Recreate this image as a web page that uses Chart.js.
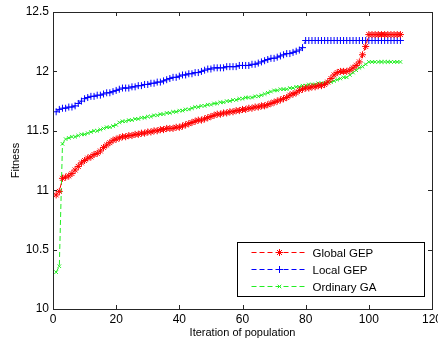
<!DOCTYPE html>
<html>
<head>
  <meta charset="UTF-8">
  <title>Fitness vs iteration</title>
  <script src="https://cdn.jsdelivr.net/npm/chart.js"></script>
  <style>
    html, body { margin: 0; padding: 0; background: #fff; }
    #wrap { width: 438px; height: 345px; }
  </style>
</head>
<body>
  <div id="wrap"><canvas id="fitChart" width="438" height="345"></canvas></div>

  <script>
    // iterations 1..110
    const iterations = Array.from({ length: 110 }, (_, i) => i + 1);
    const seriesNames = ['Global GEP', 'Local GEP', 'Ordinary GA'];
    const xTicks = [0, 20, 40, 60, 80, 100, 120];
    const yTicks = [10, 10.5, 11, 11.5, 12, 12.5];

    const globalGEP = [
      10.96, 10.99, 11.10, 11.11, 11.12, 11.14, 11.17, 11.20, 11.23, 11.25,
      11.27, 11.28, 11.30, 11.31, 11.33, 11.36, 11.38, 11.40, 11.42, 11.43,
      11.44, 11.45, 11.45, 11.46, 11.46, 11.47, 11.47, 11.48, 11.48, 11.49,
      11.49, 11.50, 11.50, 11.51, 11.51, 11.52, 11.52, 11.52, 11.53, 11.53,
      11.54, 11.55, 11.56, 11.57, 11.58, 11.59, 11.59, 11.60, 11.61, 11.62,
      11.63, 11.64, 11.64, 11.65, 11.65, 11.66, 11.66, 11.67, 11.67, 11.68,
      11.68, 11.69, 11.69, 11.70, 11.70, 11.71, 11.71, 11.72, 11.73, 11.74,
      11.75, 11.76, 11.77, 11.78, 11.80, 11.81, 11.82, 11.84, 11.85, 11.86,
      11.86, 11.87, 11.87, 11.88, 11.88, 11.89, 11.91, 11.94, 11.97, 11.99,
      12.00, 12.00, 12.00, 12.01, 12.03, 12.05, 12.08, 12.14, 12.21, 12.31,
      12.31, 12.31, 12.31, 12.31, 12.31, 12.31, 12.31, 12.31, 12.31, 12.31
    ];
    const localGEP = [
      11.66, 11.68, 11.69, 11.69, 11.70, 11.70, 11.71, 11.73, 11.75, 11.77,
      11.78, 11.79, 11.79, 11.80, 11.80, 11.81, 11.82, 11.82, 11.83, 11.84,
      11.85, 11.86, 11.86, 11.86, 11.87, 11.87, 11.88, 11.88, 11.89, 11.89,
      11.90, 11.90, 11.91, 11.91, 11.92, 11.93, 11.94, 11.95, 11.95, 11.96,
      11.97, 11.97, 11.98, 11.98, 11.99, 11.99, 12.00, 12.01, 12.02, 12.02,
      12.03, 12.03, 12.03, 12.03, 12.04, 12.04, 12.04, 12.04, 12.05, 12.05,
      12.05, 12.05, 12.06, 12.06, 12.07, 12.08, 12.09, 12.10, 12.11, 12.11,
      12.12, 12.13, 12.14, 12.15, 12.15, 12.16, 12.17, 12.18, 12.20, 12.26,
      12.26, 12.26, 12.26, 12.26, 12.26, 12.26, 12.26, 12.26, 12.26, 12.26,
      12.26, 12.26, 12.26, 12.26, 12.26, 12.26, 12.26, 12.26, 12.26, 12.26,
      12.26, 12.26, 12.26, 12.26, 12.26, 12.26, 12.26, 12.26, 12.26, 12.26
    ];
    const ordinaryGA = [
      10.31, 10.36, 11.39, 11.43, 11.44, 11.45, 11.45, 11.46, 11.47, 11.47,
      11.48, 11.49, 11.50, 11.50, 11.51, 11.52, 11.53, 11.53, 11.54, 11.55,
      11.57, 11.58, 11.58, 11.59, 11.59, 11.60, 11.60, 11.61, 11.61, 11.62,
      11.62, 11.63, 11.63, 11.64, 11.64, 11.65, 11.65, 11.66, 11.66, 11.67,
      11.67, 11.68, 11.68, 11.69, 11.70, 11.70, 11.71, 11.71, 11.72, 11.72,
      11.73, 11.73, 11.74, 11.74, 11.75, 11.75, 11.76, 11.76, 11.77, 11.77,
      11.78, 11.78, 11.78, 11.79, 11.79, 11.80, 11.81, 11.82, 11.83, 11.84,
      11.84, 11.85, 11.85, 11.85, 11.86, 11.86, 11.87, 11.87, 11.88, 11.88,
      11.89, 11.89, 11.89, 11.90, 11.90, 11.90, 11.91, 11.91, 11.92, 11.93,
      11.94, 11.95, 11.95, 11.97, 11.99, 12.01, 12.03, 12.04, 12.06, 12.08,
      12.08, 12.08, 12.08, 12.08, 12.08, 12.08, 12.08, 12.08, 12.08, 12.08
    ];

    const FONT = 'Liberation Sans, Arial, sans-serif';
    const AXIS = '#262626';
    const COLORS = ['#ff0000', '#0000ff', '#22ee22'];
    const STYLES = ['star', 'cross', 'crossRot'];
    const RADII = [3.5, 3.5, 2.5];

    function series(i, data) {
      return {
        label: seriesNames[i],
        data: data,
        borderColor: COLORS[i],
        backgroundColor: COLORS[i],
        borderWidth: 1,
        borderDash: [5, 3],
        pointStyle: STYLES[i],
        pointRadius: RADII[i],
        pointBorderWidth: 1,
        pointBorderColor: COLORS[i],
        pointHoverRadius: RADII[i],
        tension: 0,
        fill: false
      };
    }

    // matlab-ish box with inward ticks + legend drawn in the axes
    const matlabAxes = {
      id: 'matlabAxes',
      afterDraw(chart) {
        const ctx = chart.ctx;
        const a = chart.chartArea;
        const xs = chart.scales.x, ys = chart.scales.y;
        ctx.save();
        ctx.strokeStyle = AXIS;
        ctx.lineWidth = 1;
        ctx.setLineDash([]);
        ctx.strokeRect(Math.round(a.left) + 0.5, Math.round(a.top) + 0.5,
          Math.round(a.right - a.left), Math.round(a.bottom - a.top));
        ctx.beginPath();
        xTicks.forEach(v => {
          const px = Math.round(xs.getPixelForValue(v)) + 0.5;
          ctx.moveTo(px, a.bottom); ctx.lineTo(px, a.bottom - 4);
          ctx.moveTo(px, a.top); ctx.lineTo(px, a.top + 4);
        });
        yTicks.forEach(v => {
          const py = Math.round(ys.getPixelForValue(v)) + 0.5;
          ctx.moveTo(a.left, py); ctx.lineTo(a.left + 4, py);
          ctx.moveTo(a.right, py); ctx.lineTo(a.right - 4, py);
        });
        ctx.stroke();

        // legend
        const w = 187, h = 54;
        const lx = Math.round(a.right - 8 - w) + 0.5, ly = Math.round(a.bottom - 13 - h) + 0.5;
        ctx.fillStyle = '#fff';
        ctx.fillRect(lx, ly, w, h);
        ctx.strokeStyle = '#000';
        ctx.strokeRect(lx, ly, w, h);
        ctx.font = '11.5px ' + FONT;
        ctx.textBaseline = 'middle';
        seriesNames.forEach((name, i) => {
          const cy = ly + 10 + i * 17;
          ctx.strokeStyle = COLORS[i];
          ctx.lineWidth = 1;
          ctx.setLineDash([5, 3]);
          ctx.beginPath();
          ctx.moveTo(lx + 14, cy); ctx.lineTo(lx + 70, cy);
          ctx.stroke();
          ctx.setLineDash([]);
          ctx.strokeStyle = COLORS[i];
          ctx.fillStyle = COLORS[i];
          Chart.helpers.drawPoint(ctx, {
            pointStyle: STYLES[i], radius: RADII[i], borderWidth: 1, rotation: 0
          }, lx + 42, cy);
          ctx.fillStyle = '#000';
          ctx.fillText(name, lx + 75, cy + 1);
        });
        ctx.restore();
      }
    };

    const ctx = document.getElementById('fitChart').getContext('2d');
    new Chart(ctx, {
      type: 'line',
      data: {
        labels: iterations,
        datasets: [
          series(0, globalGEP),
          series(1, localGEP),
          series(2, ordinaryGA)
        ]
      },
      options: {
        responsive: false,
        animation: false,
        layout: { padding: { top: 12, right: 6, left: 0, bottom: 0 } },
        plugins: { legend: { display: false }, tooltip: { enabled: false } },
        scales: {
          x: {
            type: 'linear', min: 0, max: 120,
            afterBuildTicks: s => { s.ticks = xTicks.map(v => ({ value: v })); },
            afterFit: s => { s.height = 36; s.paddingLeft = 0; s.paddingRight = 0; },
            grid: { display: false, drawTicks: false },
            border: { display: false },
            ticks: { color: '#000', font: { family: FONT, size: 12 }, padding: 3, maxRotation: 0,
                     callback: v => String(v) },
            title: { display: true, text: 'Iteration of population', color: '#000',
                     font: { family: FONT, size: 11 }, padding: { top: 0, bottom: 5 } }
          },
          y: {
            min: 10, max: 12.5,
            afterBuildTicks: s => { s.ticks = yTicks.map(v => ({ value: v })); },
            afterFit: s => { s.width = 53; s.paddingTop = 0; s.paddingBottom = 0; },
            grid: { display: false, drawTicks: false },
            border: { display: false },
            ticks: { color: '#000', font: { family: FONT, size: 12 }, padding: 4,
                     callback: v => String(v) },
            title: { display: true, text: 'Fitness', color: '#000',
                     font: { family: FONT, size: 11 }, padding: { top: 9, bottom: 0 } }
          }
        }
      },
      plugins: [matlabAxes]
    });
  </script>
</body>
</html>
